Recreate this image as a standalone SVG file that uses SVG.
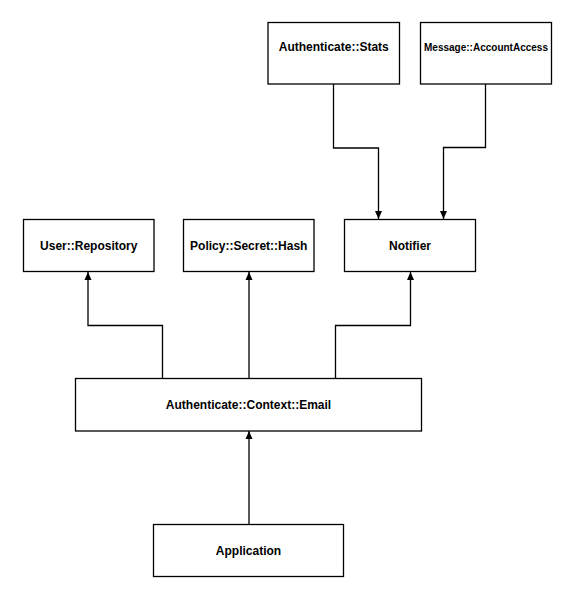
<svg xmlns="http://www.w3.org/2000/svg" width="573" height="599" viewBox="0 0 573 599">
  <style>
    .box { fill: #ffffff; stroke: #000000; stroke-width: 1.3; }
    .lbl { font-family: "Liberation Sans", Arial, Helvetica, sans-serif; font-weight: bold; font-size: 12px; fill: #000000; text-anchor: middle; dominant-baseline: central; }
    .small { font-size: 10px; }
    .edge { fill: none; stroke: #000000; stroke-width: 1.3; marker-end: url(#arrow); }
  </style>
  <defs>
    <marker id="arrow" markerWidth="8" markerHeight="10" refX="8" refY="5" orient="auto" markerUnits="userSpaceOnUse">
      <path d="M0,1.5 L8,5 L0,8.5 Z" fill="#000000"/>
    </marker>
  </defs>
  <rect width="573" height="599" fill="#ffffff"/>

  <g id="connectors">
    <!-- Authenticate::Stats -> Notifier -->
    <path class="edge" d="M333.5,84 V148 H378.5 V219"/>
    <!-- Message::AccountAccess -> Notifier -->
    <path class="edge" d="M485.5,84 V147.5 H443.5 V219"/>
    <!-- Authenticate::Context::Email -> User::Repository -->
    <path class="edge" d="M162.5,378 V325.5 H88 V272"/>
    <!-- Authenticate::Context::Email -> Policy::Secret::Hash -->
    <path class="edge" d="M249,378 V272"/>
    <!-- Authenticate::Context::Email -> Notifier -->
    <path class="edge" d="M335.5,378 V325.5 H410.5 V272"/>
    <!-- Application -> Authenticate::Context::Email -->
    <path class="edge" d="M249,524 V431"/>
  </g>

  <g id="authenticate-stats">
    <rect class="box" x="268" y="22.5" width="131.5" height="61.5"/>
    <text class="lbl" x="333.75" y="47">Authenticate::Stats</text>
  </g>
  <g id="message-accountaccess">
    <rect class="box" x="420.5" y="22.5" width="131" height="61.5"/>
    <text class="lbl small" x="486" y="47">Message::AccountAccess</text>
  </g>
  <g id="user-repository">
    <rect class="box" x="23.5" y="219.5" width="130.5" height="52"/>
    <text class="lbl" x="88.75" y="245.5">User::Repository</text>
  </g>
  <g id="policy-secret-hash">
    <rect class="box" x="183.5" y="219.5" width="130.5" height="52"/>
    <text class="lbl" x="248.75" y="245.5">Policy::Secret::Hash</text>
  </g>
  <g id="notifier">
    <rect class="box" x="344.5" y="219.5" width="131" height="52"/>
    <text class="lbl" x="410" y="245.5">Notifier</text>
  </g>
  <g id="authenticate-context-email">
    <rect class="box" x="75.5" y="378.5" width="346" height="52.5"/>
    <text class="lbl" x="248.5" y="404.5">Authenticate::Context::Email</text>
  </g>
  <g id="application">
    <rect class="box" x="153.5" y="524.5" width="190" height="52"/>
    <text class="lbl" x="248.5" y="550.5">Application</text>
  </g>
</svg>
